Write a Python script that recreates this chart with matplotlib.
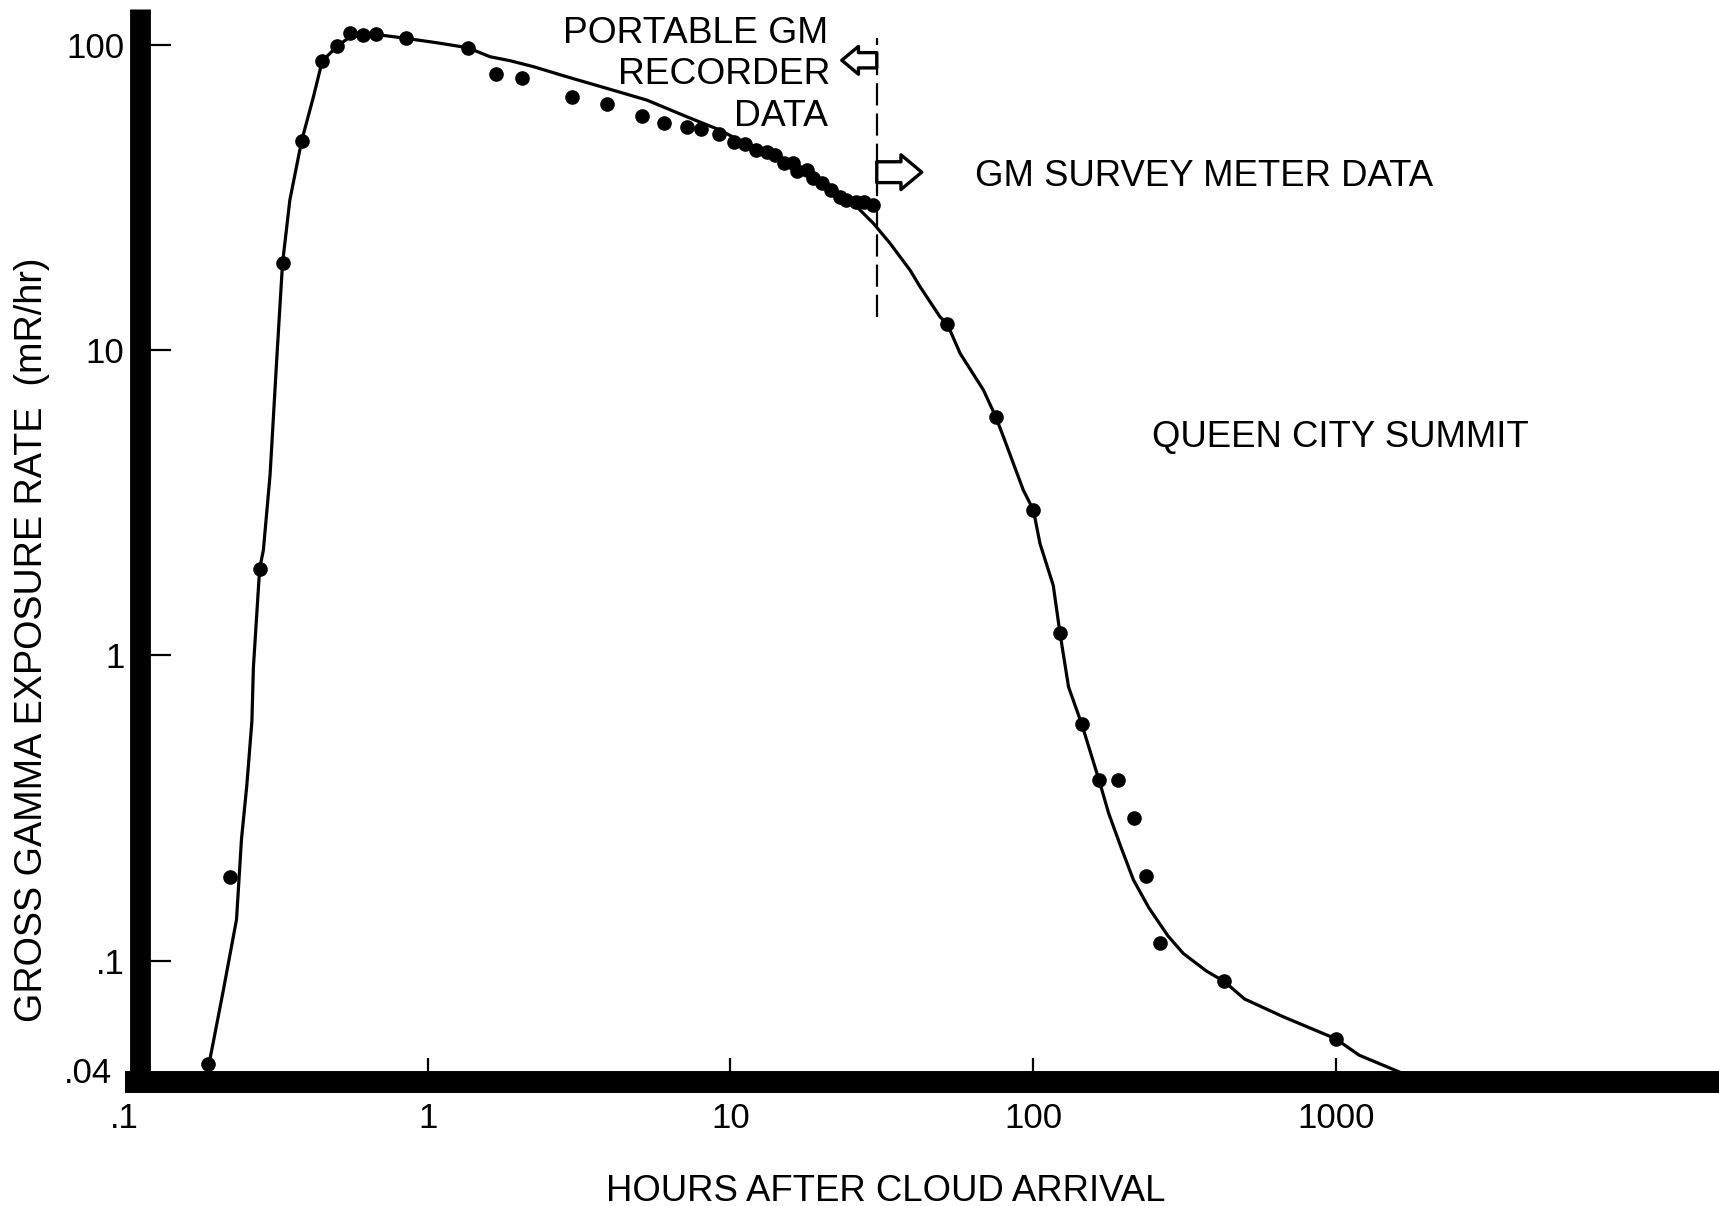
import matplotlib
matplotlib.use('Agg')
import matplotlib.pyplot as plt
from matplotlib.patches import FancyArrowPatch, ArrowStyle
from matplotlib.transforms import ScaledTranslation

# Measured data points (hours after cloud arrival, mR/hr)
hours_pts = [0.189, 0.223, 0.279, 0.332, 0.384, 0.449, 0.504, 0.555, 0.611, 0.674,
             0.849, 1.357, 1.678, 2.044, 2.99, 3.92, 5.09, 6.03, 7.17, 7.98,
             9.14, 10.27, 11.17, 12.18, 13.24, 14.04, 15.01, 16.04, 16.59, 17.88,
             18.79, 20.09, 21.47, 22.95, 24.13, 26.01, 27.57, 29.62, 51.98, 75.07,
             100, 122.4, 144.5, 164.8, 190.5, 215.3, 235, 260.8, 426.3, 994]
rate_pts = [0.046, 0.188, 1.92, 19.3, 48.6, 88.6, 99.2, 109.1, 107.8, 108.3,
            105.1, 97.9, 80.3, 78.2, 67.4, 63.9, 58.6, 55.7, 53.7, 53.1,
            51.0, 48.1, 47.3, 45.3, 44.5, 43.7, 40.9, 40.9, 38.6, 38.9,
            36.6, 35.3, 33.5, 31.8, 31.0, 30.6, 30.6, 29.9, 12.2, 6.06,
            3.0, 1.18, 0.594, 0.390, 0.390, 0.294, 0.189, 0.114, 0.0855, 0.0555]

# Hand-drawn fitted curve
curve_hours = [0.189, 0.196, 0.212, 0.234, 0.243, 0.253, 0.263, 0.266, 0.279, 0.287,
               0.302, 0.318, 0.332, 0.351, 0.384, 0.420, 0.449, 0.504, 0.555, 0.674,
               0.849, 1.072, 1.357, 1.608, 1.872, 2.236, 2.879, 3.903, 5.29, 7.17,
               9.24, 11.2, 13.24, 15.64, 18.48, 21.83, 25.45, 29.62, 33.63, 39.13,
               42.25, 49.15, 51.98, 57.28, 68.39, 75.07, 79.6, 92.6, 100, 105.1,
               116.3, 122.4, 130.6, 144.5, 164.8, 177.1, 193.2, 213.8, 240.5, 278,
               312.4, 372.3, 426.3, 497.6, 665.3, 994, 1190, 1639]
curve_rate = [0.0449, 0.0539, 0.0806, 0.1364, 0.25, 0.3745, 0.6076, 0.9117, 1.924, 2.214,
              3.908, 9.493, 19.28, 31.05, 48.58, 67.7, 88.6, 99.2, 106.4, 108.3,
              105.1, 101.7, 97.95, 91.5, 88.8, 84.9, 78.7, 72.1, 66.0, 58.2,
              52.6, 47.5, 44.8, 41.28, 37.07, 32.74, 30.27, 26.04, 22.39, 18.31,
              16.14, 12.87, 12.18, 9.763, 7.406, 6.058, 5.207, 3.481, 2.995, 2.328,
              1.695, 1.183, 0.7888, 0.5944, 0.3896, 0.3045, 0.2399, 0.1841, 0.149, 0.1206,
              0.1056, 0.0925, 0.0855, 0.0749, 0.0656, 0.0555, 0.049, 0.0429]

xticks = [0.1, 1, 10, 100, 1000]
xtick_labels = ['.1', '1', '10', '100', '1000']
yticks = [0.04, 0.1, 1, 10, 100]
ytick_labels = ['.04', '.1', '1', '10', '100']

boundary_hours = 30.4          # recorder / survey meter boundary
boundary_rate_span = [12.8, 105]
left_arrow_tip_hours = 23.3
left_arrow_rate = 89.1
right_arrow_tip_hours = 42.8
right_arrow_rate = 38.3

plt.rcParams['font.family'] = ['Liberation Sans', 'DejaVu Sans']

fig = plt.figure(figsize=(17.19, 12.06), dpi=100)
ax = fig.add_axes([0.07253, 0.10273, 0.92747, 0.89])
ax.set_xscale('log')
ax.set_yscale('log')
ax.set_xlim(0.1, 18340)
ax.set_ylim(0.04, 131.4)

ax.plot(curve_hours, curve_rate, color='black', lw=2.3, solid_joinstyle='round',
        solid_capstyle='round', zorder=3)
ax.plot(hours_pts, rate_pts, 'o', color='black', ms=9.5, zorder=4)

ax.plot([boundary_hours, boundary_hours], boundary_rate_span, color='black',
        lw=1.6, ls=(0, (10, 3.6)), zorder=3)

left_arrow = FancyArrowPatch((boundary_hours, left_arrow_rate),
                             (left_arrow_tip_hours, left_arrow_rate),
                             arrowstyle=ArrowStyle('Simple', head_length=12, head_width=20, tail_width=11),
                             mutation_scale=1, fc='white', ec='black', lw=2.4,
                             shrinkA=0, shrinkB=0, zorder=5)
ax.add_patch(left_arrow)
right_arrow = FancyArrowPatch((boundary_hours, right_arrow_rate),
                              (right_arrow_tip_hours, right_arrow_rate),
                              arrowstyle=ArrowStyle('Simple', head_length=15, head_width=25, tail_width=15),
                              mutation_scale=1, fc='white', ec='black', lw=2.4,
                              shrinkA=0, shrinkB=0, zorder=5)
ax.add_patch(right_arrow)

for s in ['top', 'right']:
    ax.spines[s].set_visible(False)
ax.spines['left'].set_linewidth(15)
ax.spines['left'].set_capstyle('butt')
ax.spines['left'].set_position(('outward', -11.3))
ax.spines['bottom'].set_linewidth(15.8)
ax.spines['bottom'].set_capstyle('butt')

ax.set_xticks(xticks)
ax.set_xticklabels(xtick_labels)
ax.set_yticks(yticks)
ax.set_yticklabels(ytick_labels)
ax.minorticks_off()
ax.tick_params(axis='y', which='major', direction='in', length=22, width=1.6,
               pad=11.5, labelsize=25)
ax.tick_params(axis='x', which='major', direction='in', length=17.4, width=1.6,
               pad=14, labelsize=25)

# hide the tick mark at the origin (hidden under the axis bar in the original)
ax.xaxis.get_major_ticks()[0].tick1line.set_visible(False)
ax.yaxis.get_major_ticks()[0].tick1line.set_visible(False)
# the ".04" label sits a little above and left of its nominal place
lab04 = ax.yaxis.get_majorticklabels()[0]
lab04.set_transform(lab04.get_transform() + ScaledTranslation(-9 / 72, 9 / 72, fig.dpi_scale_trans))

fs = 26.3
fig.text(0.4815, 0.9645, 'PORTABLE GM', ha='right', va='baseline', fontsize=26.8)
fig.text(0.4828, 0.9300, 'RECORDER', ha='right', va='baseline', fontsize=26.8)
fig.text(0.4815, 0.8955, 'DATA', ha='right', va='baseline', fontsize=26.8)
fig.text(0.567, 0.8455, 'GM SURVEY METER DATA', ha='left', va='baseline', fontsize=fs)
fig.text(0.6703, 0.6291, 'QUEEN CITY SUMMIT', ha='left', va='baseline', fontsize=fs)
fig.text(0.5153, 0.0045, 'HOURS AFTER CLOUD ARRIVAL', ha='center', va='baseline', fontsize=fs)
fig.text(0.0185, 0.4695, 'GROSS GAMMA EXPOSURE RATE  (mR/hr)', rotation=90,
         ha='center', va='center', fontsize=27.2)

fig.savefig('out.png', dpi=100)
